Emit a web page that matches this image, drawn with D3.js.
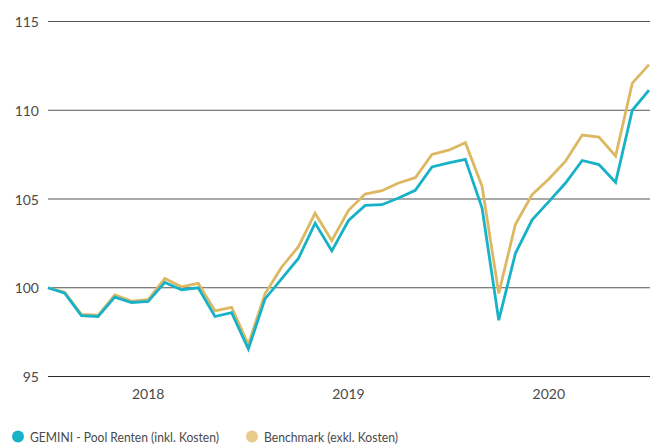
<!DOCTYPE html>
<html>
<head>
<meta charset="utf-8">
<script src="https://cdn.jsdelivr.net/npm/d3@7"></script>
<style>
  html, body { margin: 0; padding: 0; background: #fff; }
  svg { display: block; }
  text { font-family: Lato, "Open Sans", sans-serif; fill: #4a4a4a; }
</style>
</head>
<body>
<svg id="chart" width="660" height="445"></svg>
<script>
// ---- data ----
const years = ["2018", "2019", "2020"];
const yTicks = [95, 100, 105, 110, 115];
const seriesNames = ["GEMINI - Pool Renten (inkl. Kosten)", "Benchmark (exkl. Kosten)"];
// month-end values, Dec 2017 .. Dec 2020 (indexed, start = 100)
const gemini = [100, 99.7, 98.43, 98.38, 99.47, 99.17, 99.23, 100.3, 99.89, 100.0, 98.38, 98.6,
  96.55, 99.37, 100.51, 101.65, 103.64, 102.08, 103.79, 104.64, 104.68, 105.06, 105.49, 106.81,
  107.04, 107.23, 104.49, 98.17, 101.94, 103.83, 104.85, 105.9, 107.17, 106.94, 105.94, 110.0, 111.13];
const benchmark = [100, 99.75, 98.5, 98.45, 99.6, 99.25, 99.33, 100.52, 100.05, 100.25, 98.7, 98.9,
  96.8, 99.66, 101.17, 102.31, 104.2, 102.65, 104.36, 105.28, 105.47, 105.9, 106.2, 107.51,
  107.75, 108.17, 105.72, 99.68, 103.58, 105.25, 106.13, 107.13, 108.6, 108.49, 107.42, 111.53, 112.57];

const colors = ["#17b2c8", "#dcb863"];
const legendColors = ["#17b2c8", "#e6cb8c"];

// ---- scales ----
const svg = d3.select("#chart");
const x = d3.scaleLinear().domain([0, gemini.length - 1]).range([48, 649]);
const y = d3.scaleLinear().domain([95, 115]).range([376.5, 21.5]);

// gridlines
svg.append("g").selectAll("line").data(yTicks).join("line")
  .attr("x1", 48).attr("x2", 650)
  .attr("y1", d => y(d)).attr("y2", d => y(d))
  .attr("stroke", d => d === 95 ? "#2a2a2a" : "#555")
  .attr("stroke-width", 1.1);

// y labels
svg.append("g").selectAll("text").data(yTicks).join("text")
  .attr("x", 39).attr("y", d => y(d))
  .attr("text-anchor", "end")
  .attr("dominant-baseline", "central")
  .style("font-size", "14px")
  .text(d => d);

// year labels
svg.append("g").selectAll("text").data(years).join("text")
  .attr("x", (d, i) => x(i * 12 + 6))
  .attr("y", 393)
  .attr("text-anchor", "middle")
  .attr("dominant-baseline", "central")
  .style("font-size", "14px")
  .text(d => d);

// lines (benchmark first, fund drawn on top)
const line = d3.line().x((d, i) => x(i)).y(d => y(d));
[benchmark, gemini].forEach((s, k) => {
  svg.append("path")
    .datum(s)
    .attr("d", line)
    .attr("fill", "none")
    .attr("stroke", colors[1 - k])
    .attr("stroke-width", 2.8)
    .attr("stroke-linejoin", "miter");
});

// legend
const legendX = [18, 252];
const legendW = [189, 134];
const lg = svg.append("g");
seriesNames.forEach((n, i) => {
  lg.append("circle")
    .attr("cx", legendX[i]).attr("cy", 436.5).attr("r", 6)
    .attr("fill", legendColors[i]);
  lg.append("text")
    .attr("x", legendX[i] + 12).attr("y", 436)
    .attr("dominant-baseline", "central")
    .attr("textLength", legendW[i])
    .attr("lengthAdjust", "spacingAndGlyphs")
    .style("font-size", "14px")
    .text(n);
});
</script>
</body>
</html>
